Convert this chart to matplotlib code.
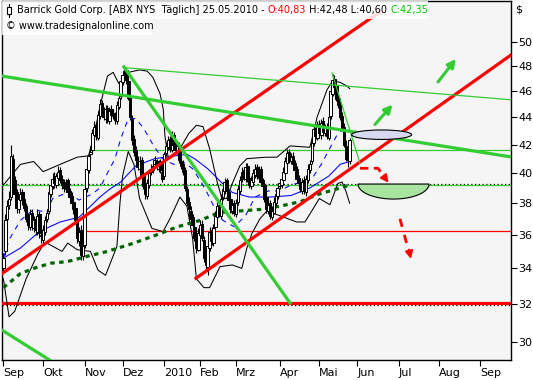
import numpy as np
import matplotlib
matplotlib.use('Agg')
import matplotlib.pyplot as plt
from matplotlib.patches import Ellipse, Polygon, Rectangle

# ---------------- data (trading-day index 0 = 01.09.2009) ----------------
open_ = [34.0, 35.0, 37.0, 37.9, 38.4, 41.0, 39.5, 38.7, 37.6, 38.2, 38.7, 38.3, 37.8, 37.1, 36.5, 37.4, 36.4, 37.0, 36.2, 37.3, 36.0,
         35.7, 36.2, 37.0, 37.5, 38.6, 39.1, 39.8, 39.2, 39.7, 40.2, 39.6, 39.3, 38.9, 39.5, 38.8, 38.5, 38.1, 37.7, 37.0, 35.6, 36.3, 34.7,
         35.4, 39.0, 40.2, 41.3, 41.6, 42.7, 43.4, 42.5, 44.1, 45.1, 44.4, 43.9, 44.7, 43.7, 44.6, 44.3, 44.2, 43.7, 44.8, 45.6,
         46.7, 47.5, 47.7, 46.8, 45.6, 43.9, 42.4, 41.6, 40.8, 40.3, 40.9, 39.8, 39.2, 38.5, 39.2, 40.1, 40.2, 40.6, 40.8, 40.3, 40.8, 40.1,
         39.8, 41.4, 41.8, 42.4, 41.6, 42.7, 41.9, 41.5, 42.0, 40.8, 40.6, 40.2, 38.9, 38.1, 37.5, 37.1, 36.5, 35.9, 35.1,
         36.0, 36.7, 35.7, 34.7, 34.1, 35.2, 36.3, 35.5, 36.5, 37.1, 37.9, 37.2, 38.4, 38.8, 39.5, 38.7, 38.3, 37.5, 38.0,
         37.3, 38.1, 38.8, 39.6, 40.2, 39.6, 40.5, 39.7, 39.1, 39.4, 39.9, 40.4, 39.7, 40.3, 39.5, 39.2, 38.4, 37.5, 38.0, 37.1, 37.4, 38.0, 38.5,
         39.1, 39.2, 39.5, 40.0, 40.7, 41.5, 40.8, 41.2, 40.7, 40.3, 39.7, 39.4, 38.8, 39.5, 38.7, 39.5, 40.2, 40.8, 42.1, 43.2, 42.5,
         43.5, 42.7, 43.7, 42.8, 43.3, 42.5, 44.1, 45.8, 47.0, 46.4, 45.5, 45.0, 44.1, 43.3, 41.9, 41.2, 40.83]
high = [34.9, 37.3, 38.2, 38.8, 42.0, 41.3, 39.8, 38.9, 38.6, 39.0, 38.9, 38.5, 38.0, 37.4, 37.6, 37.6, 37.2, 37.2, 37.6, 37.5, 36.4,
        36.6, 37.2, 37.6, 38.9, 39.5, 40.0, 40.1, 40.0, 40.5, 40.4, 39.9, 39.6, 39.6, 39.7, 39.0, 38.7, 38.3, 37.9, 37.2, 36.5, 36.6, 35.7,
        39.3, 40.6, 41.5, 41.9, 43.1, 43.7, 43.6, 44.5, 45.4, 45.3, 44.8, 44.9, 44.9, 44.8, 44.9, 44.6, 44.4, 45.2, 45.8, 47.1,
        47.6, 48.1, 47.9, 47.0, 45.8, 44.2, 42.7, 41.9, 41.2, 41.2, 41.1, 40.1, 39.4, 39.6, 40.3, 40.6, 40.8, 41.2, 41.0, 40.9, 41.0, 40.3,
        41.5, 42.2, 42.6, 42.6, 43.0, 42.9, 42.2, 42.2, 42.2, 41.1, 40.9, 40.4, 39.1, 38.4, 37.8, 37.3, 36.8, 36.1, 36.4,
        36.9, 36.9, 35.9, 34.9, 35.6, 36.5, 36.5, 36.7, 37.5, 38.1, 38.1, 38.6, 39.2, 39.7, 39.7, 38.9, 38.5, 38.2, 38.2,
        38.3, 39.2, 39.8, 40.4, 40.4, 40.7, 40.7, 39.9, 39.8, 40.3, 40.6, 40.6, 40.5, 40.5, 39.7, 39.4, 38.6, 38.2, 38.2, 37.8, 38.4, 38.9, 39.3,
        39.6, 39.9, 40.4, 41.1, 41.7, 41.7, 41.4, 41.5, 40.9, 40.5, 39.9, 39.6, 39.7, 39.8, 39.9, 40.6, 40.9, 42.5, 43.5, 43.5, 43.7,
        43.8, 43.9, 44.0, 43.5, 43.6, 44.3, 46.4, 47.4, 47.3, 46.6, 45.8, 45.3, 44.4, 43.6, 42.3, 41.6, 42.48]
low = [33.8, 34.8, 36.8, 37.6, 38.2, 39.1, 38.3, 37.4, 37.4, 38.0, 37.9, 37.5, 36.8, 36.3, 36.3, 36.3, 36.2, 36.0, 36.0, 35.8, 35.5,
       35.5, 36.0, 36.8, 37.3, 38.4, 38.9, 39.0, 39.0, 39.5, 39.3, 38.9, 38.7, 38.7, 38.5, 38.2, 37.8, 37.3, 36.7, 35.5, 35.3, 34.5, 34.5,
       35.2, 38.7, 40.0, 41.0, 41.4, 42.5, 42.3, 42.3, 43.9, 44.0, 43.8, 43.6, 43.6, 43.5, 44.0, 43.9, 43.5, 43.5, 44.6, 45.4,
       46.5, 47.1, 46.6, 45.3, 43.8, 42.0, 41.2, 40.6, 40.2, 40.1, 39.7, 38.9, 38.3, 38.3, 39.0, 39.9, 40.0, 40.4, 40.2, 40.1, 40.0, 39.4,
       39.6, 41.2, 41.6, 41.5, 41.5, 41.8, 41.4, 41.3, 40.7, 40.3, 39.9, 38.8, 37.8, 37.4, 36.8, 36.4, 35.6, 34.9, 35.0,
       35.9, 35.6, 34.4, 33.9, 33.6, 35.0, 35.4, 35.3, 36.3, 37.0, 37.1, 37.0, 38.2, 38.6, 38.6, 38.0, 37.4, 37.3, 37.2,
       37.1, 37.9, 38.6, 39.4, 39.5, 39.4, 39.4, 39.0, 38.9, 39.2, 39.7, 39.6, 39.5, 39.2, 38.9, 38.1, 37.4, 37.3, 37.0, 36.9, 37.3, 37.8, 38.3,
       38.9, 39.0, 39.3, 39.8, 40.5, 40.7, 40.6, 40.4, 40.0, 39.4, 39.1, 38.7, 38.6, 38.6, 38.5, 39.3, 40.0, 40.6, 41.9, 42.4, 42.3,
       42.5, 42.4, 42.6, 42.6, 42.4, 42.3, 43.9, 45.6, 46.1, 45.2, 44.7, 43.8, 43.0, 41.8, 40.8, 40.4, 40.60]
close = [34.6, 36.9, 37.8, 38.3, 41.2, 39.4, 38.6, 37.7, 38.3, 38.6, 38.2, 37.7, 37.0, 36.6, 37.3, 36.5, 36.9, 36.3, 37.2, 36.1, 35.9,
         36.3, 36.9, 37.4, 38.7, 39.2, 39.6, 39.3, 39.8, 40.1, 39.5, 39.2, 39.0, 39.4, 38.7, 38.4, 38.0, 37.6, 36.9, 35.8, 36.2, 34.8, 35.3,
         38.9, 40.3, 41.2, 41.5, 42.8, 43.3, 42.6, 44.2, 45.0, 44.3, 44.0, 44.6, 43.8, 44.5, 44.2, 44.1, 43.8, 44.9, 45.5, 46.8,
         47.3, 47.6, 46.9, 45.5, 44.0, 42.3, 41.5, 40.9, 40.4, 40.8, 39.9, 39.1, 38.6, 39.3, 40.0, 40.3, 40.5, 40.9, 40.4, 40.7, 40.2, 39.6,
         41.3, 41.9, 42.3, 41.7, 42.6, 42.0, 41.6, 41.9, 40.9, 40.5, 40.1, 39.0, 38.0, 37.6, 37.0, 36.6, 35.8, 35.2, 36.1,
         36.6, 35.8, 34.6, 34.2, 35.3, 36.2, 35.6, 36.4, 37.2, 37.8, 37.3, 38.3, 38.9, 39.4, 38.8, 38.2, 37.6, 37.9, 37.4,
         38.0, 38.9, 39.5, 40.1, 39.7, 40.4, 39.6, 39.2, 39.5, 40.0, 40.3, 39.8, 40.2, 39.4, 39.1, 38.3, 37.6, 37.9, 37.2, 37.5, 38.1, 38.6, 39.0,
         39.3, 39.6, 40.1, 40.8, 41.4, 40.9, 41.1, 40.6, 40.2, 39.6, 39.3, 38.9, 39.4, 38.8, 39.6, 40.3, 40.6, 42.2, 43.1, 42.6, 43.4,
         42.8, 43.6, 42.9, 43.2, 42.6, 44.0, 46.0, 46.9, 46.3, 45.4, 44.9, 44.0, 43.2, 42.0, 41.0, 40.9, 42.35]

# indicators: (bar index, value)
bb_up_x = [0, 9, 16, 21, 30, 39, 45, 48, 51, 55, 58, 61, 63, 66, 72, 76, 79, 82.8, 84.5, 85.4, 87.2, 90, 93.3, 98, 102, 105.5, 109, 113, 115.5, 118, 121, 125, 128.7, 139, 144.6, 151.5, 162, 163.6, 165.8, 171, 174, 178, 181.6, 183]
bb_up_y = [39.2, 40.6, 40.8, 40.1, 40.6, 41.1, 41.2, 42.7, 44.8, 47.2, 47.5, 46.6, 46.5, 47.5, 47.7, 47.6, 47.1, 45.8, 44.6, 42.6, 41.0, 41.3, 41.7, 42.8, 43.4, 43.3, 41.7, 39.4, 38.3, 38.3, 39.3, 40.5, 41.0, 41.1, 41.1, 41.9, 41.8, 42.7, 44.0, 46.1, 46.8, 46.7, 46.4, 46.2]
bb_lo_x = [0, 3, 6, 12, 18, 21, 23, 31, 34, 39, 46, 50, 54, 60, 61.6, 63, 66, 69, 72, 78.5, 84.4, 88, 93.3, 97, 100, 102, 106, 109, 114.5, 121, 126, 128.7, 131.4, 135.6, 139.3, 146, 155, 159.4, 167, 172.6, 176.8, 179, 181, 183]
bb_lo_y = [33.4, 31.3, 31.6, 33.4, 34.8, 35.4, 35.5, 35.0, 35.5, 35.1, 35.0, 33.9, 33.6, 35.3, 38.0, 39.8, 41.5, 40.6, 38.3, 36.4, 36.2, 37.0, 38.4, 37.8, 35.8, 33.4, 32.9, 32.9, 34.1, 34.2, 34.0, 35.2, 36.1, 37.0, 37.5, 37.2, 36.8, 36.8, 38.3, 37.9, 39.3, 39.4, 38.8, 38.0]
ma20_x = [0, 3, 9, 16, 23, 26, 34, 40, 47, 51, 55, 59, 62, 66, 70, 74, 79, 84, 90, 96, 100, 105, 108, 112, 116, 122, 128, 133, 140, 146, 152, 158, 164, 168, 172, 176, 180, 183]
ma20_y = [34.6, 35.7, 36.9, 37.6, 37.4, 38.3, 38.7, 38.2, 38.6, 39.0, 40.0, 41.0, 42.4, 43.9, 43.9, 43.2, 42.0, 41.0, 40.6, 40.7, 40.3, 39.3, 38.6, 37.6, 36.9, 36.5, 37.2, 38.4, 38.8, 38.8, 39.2, 39.4, 39.8, 40.6, 41.6, 42.6, 43.2, 43.2]
ma50_x = [0, 9, 19, 30, 40, 46, 51, 56, 62, 70, 80, 91, 97, 101, 108, 115, 121, 130, 141, 152, 162, 172, 178, 183]
ma50_y = [34.6, 35.2, 36.2, 36.8, 37.1, 37.8, 38.4, 38.9, 39.4, 40.5, 41.0, 41.2, 41.3, 41.0, 40.3, 39.4, 38.7, 38.4, 38.4, 38.5, 39.0, 39.8, 40.6, 40.8]
ma200_x = [0, 9, 16, 25, 34, 44, 55, 69, 81, 92, 104, 114, 125, 136, 146, 157, 167, 178, 183]
ma200_y = [32.9, 33.7, 34.0, 34.3, 34.4, 34.7, 35.0, 35.5, 36.0, 36.5, 36.9, 37.4, 37.5, 37.6, 37.8, 38.1, 38.6, 39.0, 39.2]

# drawn trend lines: (x0, p0, x1, p1)
red_thick_lines = [(-0.74, 33.70, 199.0, 52.66), (101.8, 33.43, 268.3, 48.93)]
green_thick_lines = [(-0.74, 47.20, 268.3, 41.12), (63.7, 47.94, 151.5, 32.05), (-0.74, 30.60, 30.9, 28.7)]
green_thin_lines = [(64.3, 47.88, 268.3, 45.33), (173.7, 47.45, 188.5, 40.68)]
h_green = [(-0.74, 39.20), (47.4, 41.62)]
h_red_thin = [(43.1, 36.24)]
h_red_thick = [(-0.74, 32.03)]
h_dotted = [39.27, 31.93]

x_tick_pos = [0, 21, 43, 63, 85, 104, 123, 146, 167, 187, 209, 230, 252]
x_tick_lab = ['Sep', 'Okt', 'Nov', 'Dez', '2010', 'Feb', 'Mrz', 'Apr', 'Mai', 'Jun', 'Jul', 'Aug', 'Sep']
y_ticks = [30, 32, 34, 36, 38, 40, 42, 44, 46, 48, 50]

# ---------------- figure ----------------
W, H = 533, 380
fig = plt.figure(figsize=(W / 100, H / 100), dpi=100)
fig.patch.set_facecolor('white')
ax = fig.add_axes([2 / W, 20 / H, 509 / W, 359 / H])
ax.set_facecolor('#f5f5f5')
ax.set_yscale('log')
XMIN, XMAX = -0.74, 268.3
ax.set_xlim(XMIN, XMAX)
ax.set_ylim(29.08, 53.65)

RED = '#ff0000'
GRN = '#33cc33'

# horizontals
for p in h_dotted:
    ax.plot([XMIN, XMAX], [p, p], color='black', lw=0.9, ls=(0, (1, 2)), zorder=2)
for x0, p in h_green:
    ax.plot([x0, XMAX], [p, p], color=GRN, lw=0.9, zorder=3)
for x0, p in h_red_thin:
    ax.plot([x0, XMAX], [p, p], color=RED, lw=0.9, zorder=3)
for x0, p in h_red_thick:
    ax.plot([x0, XMAX], [p, p], color=RED, lw=2.3, zorder=3)

# indicators
ax.plot(bb_up_x, bb_up_y, color='black', lw=0.75, zorder=4)
ax.plot(bb_lo_x, bb_lo_y, color='black', lw=0.75, zorder=4)
ax.plot(ma50_x, ma50_y, color='#0000ff', lw=0.75, zorder=4)
ax.plot(ma20_x, ma20_y, color='#0000ff', lw=0.75, ls=(0, (5, 5)), zorder=4)
ax.plot(ma200_x, ma200_y, color='#006400', lw=2.3, ls=(0, (1.4, 1.4)), solid_capstyle='butt', dash_capstyle='butt', zorder=4)

# candles, drawn one after another like the original
o = np.array(open_); h = np.array(high); l = np.array(low); c = np.array(close)
n = min(len(o), len(h), len(l), len(c))
BW = 1.35
for i in range(n):
    z = 6 + i * 0.001
    ax.plot([i, i], [l[i], h[i]], color='black', lw=0.8, zorder=z, solid_capstyle='butt')
    b0, b1 = min(o[i], c[i]), max(o[i], c[i])
    fc = 'white' if c[i] >= o[i] else 'black'
    ax.add_patch(Rectangle((i - BW / 2, b0), BW, max(b1 - b0, 0.02), facecolor=fc, edgecolor='black', lw=0.7, zorder=z + 0.0005))

# trend lines
for x0, p0, x1, p1 in red_thick_lines:
    ax.plot([x0, x1], [p0, p1], color=RED, lw=2.3, zorder=8)
for x0, p0, x1, p1 in green_thick_lines:
    ax.plot([x0, x1], [p0, p1], color=GRN, lw=2.3, zorder=8)
for x0, p0, x1, p1 in green_thin_lines:
    ax.plot([x0, x1], [p0, p1], color=GRN, lw=0.9, zorder=8)

# ellipse and half ellipse
ax.add_patch(Ellipse((199.9, 42.71), 31.7, 0.69, facecolor='#d8d8f0', edgecolor='black', lw=0.8, zorder=9))
t = np.linspace(0, np.pi, 60)
hx = 206.2 + 18.75 * np.cos(t)
hy = 39.26 * np.exp(-0.0256 * np.sin(t))
ax.add_patch(Polygon(np.column_stack([hx, hy]), closed=True, facecolor='#a8e4a0', edgecolor='black', lw=0.8, zorder=9))

# arrows
for tail, tip in [((196.4, 43.46), (205.7, 44.96)), ((229.7, 46.73), (239.2, 48.6))]:
    ax.annotate('', xy=tip, xytext=tail,
                arrowprops=dict(arrowstyle='-|>', color=GRN, lw=2.2, mutation_scale=12, shrinkA=0, shrinkB=0), zorder=10)
ax.plot([188.5, 198.0, 202.2], [40.33, 40.33, 39.55], color=RED, lw=2.0, ls=(0, (3, 2)), zorder=10)
ax.annotate('', xy=(203.6, 39.35), xytext=(201.5, 39.7),
            arrowprops=dict(arrowstyle='-|>', color=RED, lw=1.5, mutation_scale=11, shrinkA=0, shrinkB=0), zorder=10)
ax.plot([209.6, 214.3], [37.0, 35.0], color=RED, lw=2.0, ls=(0, (3, 3)), zorder=10)
ax.annotate('', xy=(215.4, 34.55), xytext=(214.3, 35.1),
            arrowprops=dict(arrowstyle='-|>', color=RED, lw=1.5, mutation_scale=11, shrinkA=0, shrinkB=0), zorder=10)

# axes styling
for s in ax.spines.values():
    s.set_color('black'); s.set_linewidth(1.0)
ax.yaxis.tick_right()
ax.set_yticks(y_ticks)
ax.set_yticklabels([str(v) for v in y_ticks])
ax.yaxis.set_minor_locator(matplotlib.ticker.NullLocator())
ax.tick_params(axis='y', which='major', direction='out', length=4, width=0.8, pad=1.5, labelsize=8)
ax.set_xticks(x_tick_pos)
ax.set_xticklabels(x_tick_lab, ha='left')
ax.tick_params(axis='x', direction='out', length=4, width=0.8, pad=2, labelsize=8)

# header
def px(x, y):
    return x / W, 1 - y / H

fig.patches.append(Rectangle(px(2, 19), 426 / W, 18 / H, transform=fig.transFigure, facecolor='white', alpha=0.85, edgecolor='none', zorder=20))
fig.patches.append(Rectangle(px(2, 35), 150 / W, 16 / H, transform=fig.transFigure, facecolor='white', alpha=0.85, edgecolor='none', zorder=20))
fig.add_artist(plt.Line2D([9 / W, 9 / W], [1 - 4 / H, 1 - 17 / H], transform=fig.transFigure, color='black', lw=0.8, zorder=21))
fig.patches.append(Rectangle(px(7, 13.5), 4 / W, 6 / H, transform=fig.transFigure, facecolor='white', edgecolor='black', lw=0.8, zorder=22))
fs = 7.0
fam = 'DejaVu Sans'
renderer = fig.canvas.get_renderer()
xpos = 17.0
for txt, col in [('Barrick Gold Corp. [ABX NYS  Täglich] 25.05.2010 - ', 'black'), ('O:40,83', '#ff0000'),
                 (' H:42,48 L:40,60 ', 'black'), ('C:42,35', '#00cc00')]:
    tt = fig.text(*px(xpos, 10), txt, fontsize=fs, family=fam, color=col, va='center', ha='left', zorder=23)
    bb = tt.get_window_extent(renderer=renderer)
    xpos += bb.width
fig.text(*px(6, 26), '© www.tradesignalonline.com', fontsize=fs, family=fam, va='center', ha='left', zorder=23)
fig.text(*px(515, 10), '$', fontsize=8, family=fam, va='center', ha='left')

fig.savefig('out.png', dpi=100)
